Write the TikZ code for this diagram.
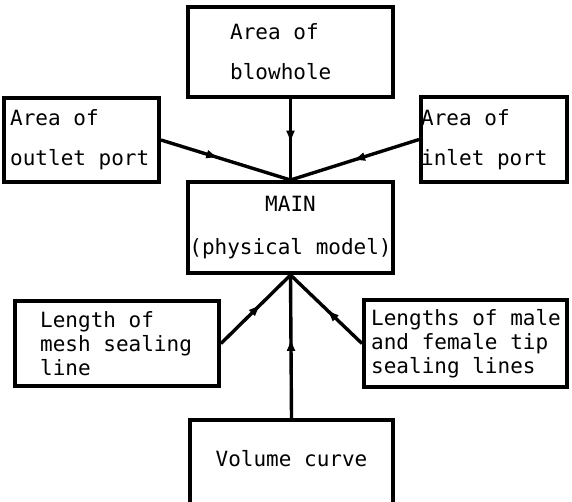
\documentclass[tikz,border=0pt]{standalone}
\usepackage{fontspec}
\setmonofont{DejaVu Sans Mono}
\usetikzlibrary{arrows.meta,decorations.markings}

\tikzset{
  blk/.style={draw, line width=4pt, inner sep=0pt},
  txt/.style={font=\ttfamily\fontsize{21}{24}\selectfont, align=left, inner sep=0pt},
  feed/.style={line width=3.4pt, postaction={decorate},
    decoration={markings, mark=at position #1 with {\arrow{Latex[length=13pt,width=9pt]}}}},
  feed/.default=0.5
}

\begin{document}
\begin{tikzpicture}[x=1pt,y=-1pt]
  \useasboundingbox (0,0) rectangle (572,501);
  \clip (0,0) rectangle (572,501);
  % boxes
  \node[blk, minimum width=205pt, minimum height=90pt] (blowhole) at (290.5,52) {};
  \node[blk, minimum width=155pt, minimum height=84pt] (outlet) at (81.5,140) {};
  \node[blk, minimum width=146pt, minimum height=85pt] (inlet) at (494,139.5) {};
  \node[blk, minimum width=205pt, minimum height=91pt] (main) at (290.5,227.5) {};
  \node[blk, minimum width=204pt, minimum height=85pt] (mesh) at (117,343.5) {};
  \node[blk, minimum width=203pt, minimum height=87pt] (tips) at (465.5,343.5) {};
  \node[blk, minimum width=203pt, minimum height=120pt] (volume) at (291.5,480) {};
  % box texts
  \node[txt, anchor=west] (blowhole_t) at ([xshift=44pt]blowhole.west) {Area of\\[16pt]blowhole};
  \node[txt, anchor=west] (outlet_t) at ([xshift=8pt]outlet.west) {Area of\\[16pt]outlet port};
  \node[txt, anchor=west] (inlet_t) at ([xshift=2pt]inlet.west) {Area of\\[16pt]inlet port};
  \node[txt, align=center] (main_t) at (main) {MAIN\\[19pt](physical model)};
  \node[txt, anchor=west] (mesh_t) at ([xshift=27pt]mesh.west) {Length of\\mesh sealing\\line};
  \node[txt, anchor=west] (tips_t) at ([xshift=9pt]tips.west) {Lengths of male\\and female tip\\sealing lines};
  \node[txt] (volume_t) at ([yshift=-41pt]volume.north) {Volume curve};
  % connectors into MAIN
  \draw[feed=0.55] (blowhole.south) -- (main.north);
  \draw[feed=0.45] (outlet.east) -- (main.north);
  \draw[feed=0.52] (inlet.west) -- (main.north);
  \draw[feed=0.58] (mesh.east) -- (main.south);
  \draw[feed=0.5] (tips.west) -- (main.south);
  \draw[feed=0.56] (volume.north) -- (main.south);
\end{tikzpicture}
\end{document}
